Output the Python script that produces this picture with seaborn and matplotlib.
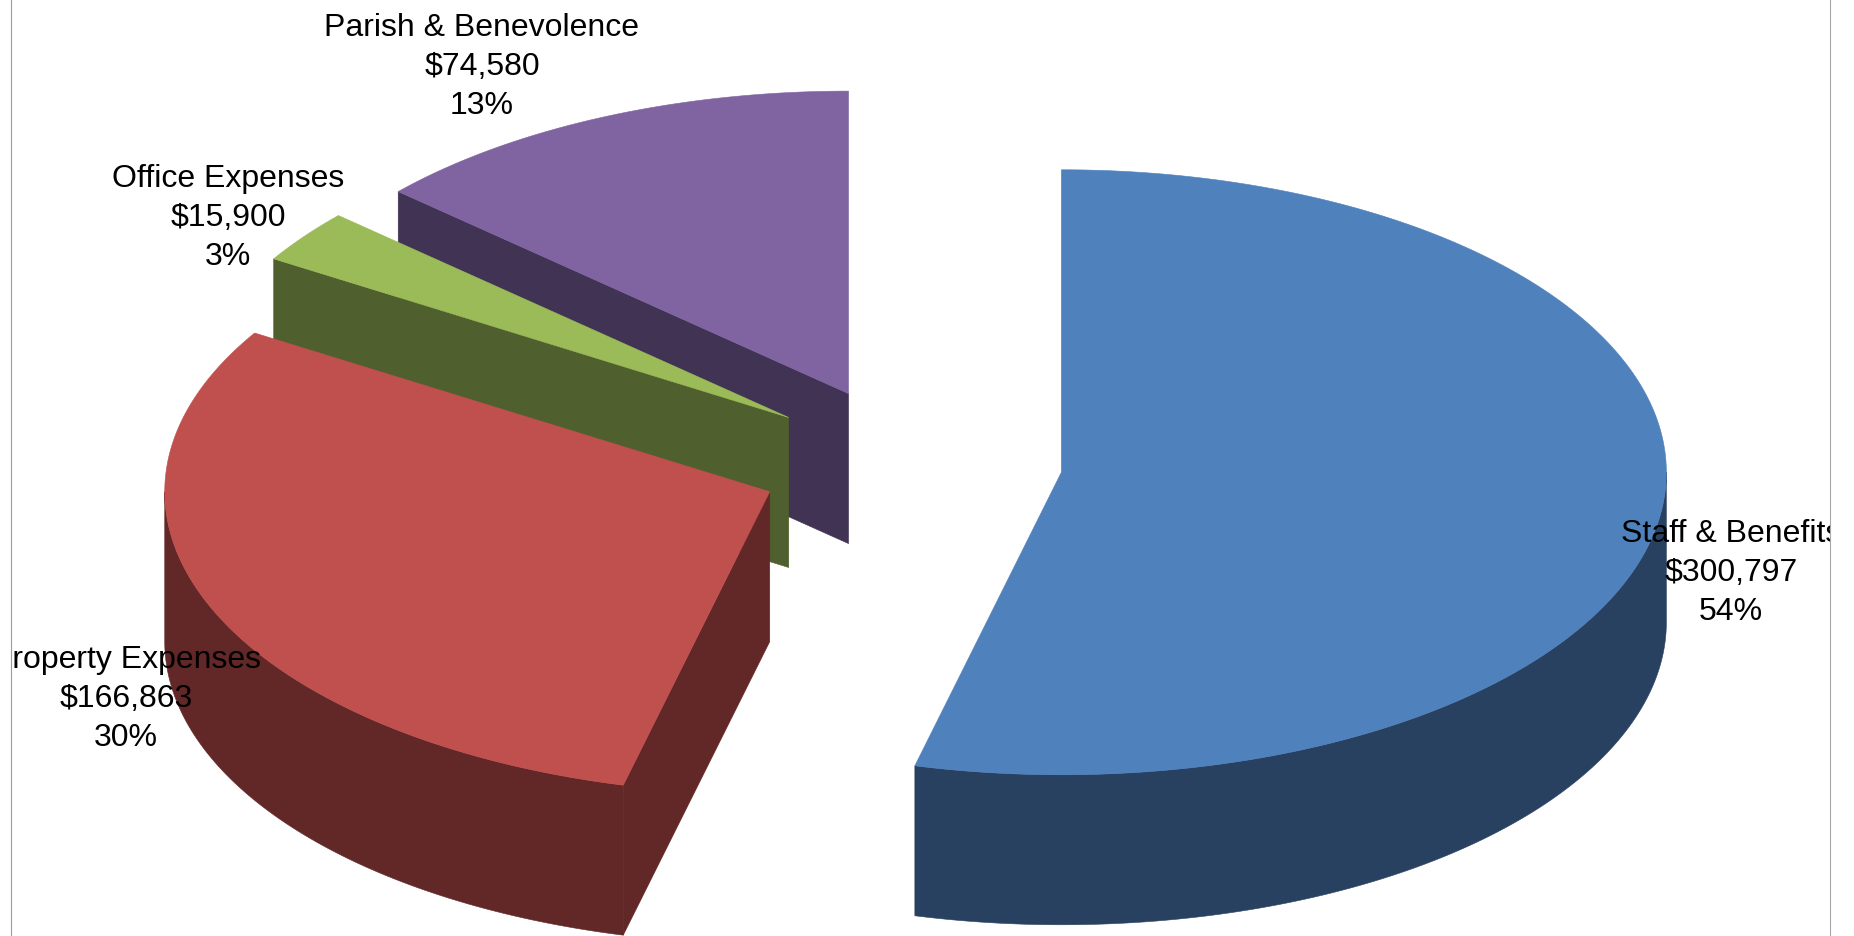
# ===============================
# BUDGET 3D PIE (EXPLODED)
# ===============================

import numpy as np
import matplotlib
matplotlib.use("Agg")
import matplotlib.pyplot as plt
import seaborn as sns

# ===============================
# 1. DATA
# ===============================

categories = ["Staff & Benefits", "Property Expenses", "Office Expenses", "Parish & Benevolence"]
amounts = [300797, 166863, 15900, 74580]

top_colors = ["#4F81BD", "#C0504D", "#9BBB59", "#8064A2"]
wall_colors = ["#294160", "#622727", "#4F5F2D", "#413354"]

# ===============================
# 2. LAYOUT (pixels of the 1854x936 canvas)
# ===============================

CX, CY = 910.5, 463
RX = 605
TILT = 0.5
EXPLODE = 152
DEPTH = 150
LEFT, RIGHT = 10.5, 1830

# label centre x and middle line y
label_pos = {
    "Staff & Benefits": (1731, 573),
    "Property Expenses": (126, 699),
    "Office Expenses": (228, 218),
    "Parish & Benevolence": (482, 67),
}

sns.set_theme(style="white")
plt.rcParams["font.family"] = ["Liberation Sans", "DejaVu Sans"]

fig = plt.figure(figsize=(18.54, 9.36), dpi=100)
ax = fig.add_axes([LEFT / 1854, 0, (RIGHT - LEFT) / 1854, 1])
ax.set_xlim(LEFT, RIGHT)
ax.set_ylim(936, 0)
ax.set_xticks([])
ax.set_yticks([])
sns.despine(ax=ax, top=True, bottom=True, left=False, right=False)
ax.spines["left"].set_color("#9c9c9c")
ax.spines["right"].set_color("#a8a8a8")
for side in ["left", "right"]:
    ax.spines[side].set_linewidth(0.8)

# ===============================
# 3. SLICES
# ===============================

total = sum(amounts)
tops = sns.color_palette(top_colors)
walls = sns.color_palette(wall_colors)


def rim(ax0, ay0, a0, a1):
    # outer arc of a slice, angles clockwise from 12 o'clock
    t = np.radians(np.linspace(a0, a1, 200))
    return ax0 + RX * np.sin(t), ay0 - RX * TILT * np.cos(t)


def paint(xs, ys, color):
    ax.fill(xs, ys, color=color, linewidth=0.4)


edges = np.cumsum([0] + amounts) / total * 360
# back slices first so the front ones cover them
for i in [3, 2, 1, 0]:
    a0, a1 = edges[i], edges[i + 1]
    mid = np.radians((a0 + a1) / 2)
    px = CX + EXPLODE * np.sin(mid)
    py = CY - EXPLODE * TILT * np.cos(mid)

    # cut face on the starting edge, only if it looks towards the viewer
    if np.sin(np.radians(a0)) < -1e-9:
        ex, ey = rim(px, py, a0, a0)
        paint([px, ex[0], ex[0], px], [py, ey[0], ey[0] + DEPTH, py + DEPTH], walls[i])

    # outer wall, front half of the rim only
    w0, w1 = max(a0, 90), min(a1, 270)
    if w0 < w1:
        wx, wy = rim(px, py, w0, w1)
        paint(np.r_[wx, wx[::-1]], np.r_[wy, wy[::-1] + DEPTH], walls[i])

    rx, ry = rim(px, py, a0, a1)
    paint(np.r_[px, rx], np.r_[py, ry], tops[i])

# ===============================
# 4. LABELS
# ===============================

# the two long labels run past the frame and get cut there, same as the original
for name, value in zip(categories, amounts):
    x, y = label_pos[name]
    pct = round(value / total * 100)
    ax.text(x, y, f"{name}\n${value:,}\n{pct}%", ha="center", va="center",
            fontsize=23, color="black", linespacing=1.38, clip_on=True)

fig.savefig("out.png", dpi=100)
